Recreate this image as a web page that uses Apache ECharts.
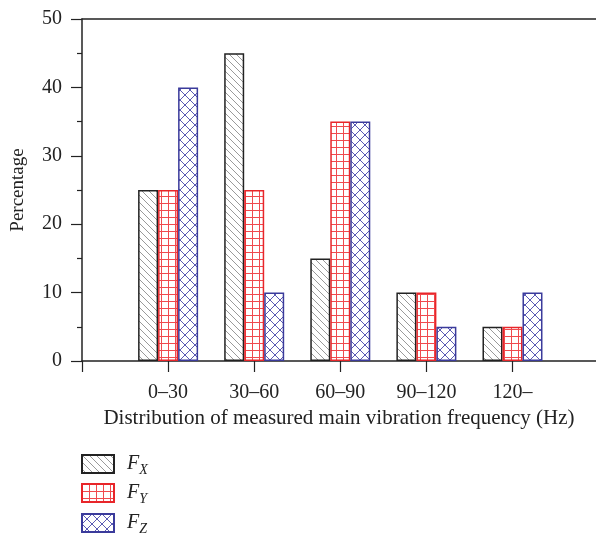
<!DOCTYPE html>
<html>
<head>
<meta charset="utf-8">
<script src="https://cdn.jsdelivr.net/npm/echarts@6/dist/echarts.min.js"></script>
<style>
  html, body { margin: 0; padding: 0; background: #fff; }
  #chart { width: 596px; height: 536px; }
</style>
</head>
<body>
<div id="chart"></div>
<script>
// Frequency bands (Hz) and share of measured main vibration frequencies (%)
const categories = ['0\u201330', '30\u201360', '60\u201390', '90\u2013120', '120\u2013'];
const fx = [25, 45, 15, 10, 5];
const fy = [25, 25, 35, 10, 5];
const fz = [40, 10, 35, 5, 10];
const yTicks = [0, 10, 20, 30, 40, 50];

const serif = '"Liberation Serif", "DejaVu Serif", serif';

// Hatch fills drawn on small tiles
function tile(size, draw) {
  const c = document.createElement('canvas');
  c.width = size; c.height = size;
  const g = c.getContext('2d');
  g.fillStyle = '#fff';
  g.fillRect(0, 0, size, size);
  draw(g, size);
  return { image: c, repeat: 'repeat' };
}
const hatchX = tile(7, (g, s) => {
  g.strokeStyle = '#9a9a9a'; g.lineWidth = 1;
  g.beginPath();
  for (let k = -1; k <= 1; k++) { g.moveTo(k * s - 1, -1); g.lineTo(k * s + s + 1, s + 1); }
  g.stroke();
});
const gridY = tile(7, (g, s) => {
  g.strokeStyle = '#f04a4e'; g.lineWidth = 1;
  g.beginPath();
  g.moveTo(0.5, 0); g.lineTo(0.5, s);
  g.moveTo(0, 0.5); g.lineTo(s, 0.5);
  g.stroke();
});
const crossZ = tile(10, (g, s) => {
  g.strokeStyle = '#5a5ab4'; g.lineWidth = 1;
  g.beginPath();
  for (let k = -1; k <= 1; k++) {
    g.moveTo(k * s, 0); g.lineTo(k * s + s, s);
    g.moveTo(k * s + s, 0); g.lineTo(k * s, s);
  }
  g.stroke();
});

// Band positions on the x scale: band i sits at i + 1
const positions = categories.map((c, i) => i + 1);
const pairs = arr => arr.map((v, i) => [positions[i], v]);

const chart = echarts.init(document.getElementById('chart'), null, { renderer: 'canvas' });

function barSeries(name, values, fill, border) {
  return {
    name: name,
    type: 'bar',
    data: pairs(values),
    barWidth: 20,
    barGap: '0%',
    itemStyle: { color: fill, borderColor: border, borderWidth: 1.5 },
    emphasis: { disabled: true }
  };
}

const seriesNames = ['F_X', 'F_Y', 'F_Z'];
const subs = { 'F_X': 'X', 'F_Y': 'Y', 'F_Z': 'Z' };
const legendTops = [454, 483, 513];

// One legend block per series, stacked down the lower left
const legends = seriesNames.map((n, i) => ({
  orient: 'vertical',
  left: 81,
  top: legendTops[i],
  padding: 0,
  itemWidth: 32,
  itemHeight: 18,
  icon: 'rect',
  selectedMode: false,
  formatter: name => '{f|F}{s|' + subs[name] + '}',
  textStyle: {
    padding: [0, 0, 0, 8],
    rich: {
      f: { fontFamily: serif, fontStyle: 'italic', fontSize: 20, color: '#222' },
      s: { fontFamily: serif, fontStyle: 'italic', fontSize: 14, color: '#222', padding: [12, 0, 0, 0] }
    }
  },
  data: [n]
}));

chart.setOption({
  animation: false,
  backgroundColor: '#fff',
  grid: { left: 82, top: 19, right: 0, bottom: 175, containLabel: false },
  legend: legends,
  xAxis: [{
    type: 'value',
    min: 0,
    max: 5.97,
    interval: 1,
    name: 'Distribution of measured main vibration frequency (Hz)',
    nameLocation: 'middle',
    nameGap: 47,
    nameTextStyle: { fontFamily: serif, fontSize: 21, color: '#222' },
    axisLine: { lineStyle: { color: '#222', width: 1.5 } },
    axisTick: {
      show: true, length: 11, inside: false,
      customValues: [0].concat(positions),
      lineStyle: { color: '#222', width: 1.2 }
    },
    axisLabel: {
      margin: 22,
      customValues: positions,
      fontFamily: serif, fontSize: 20, color: '#222',
      formatter: v => categories[Math.round(v) - 1] || ''
    },
    splitLine: { show: false }
  }, {
    type: 'value',
    position: 'top',
    min: 0,
    max: 5.97,
    axisLine: { show: true, onZero: false, lineStyle: { color: '#222', width: 1.5 } },
    axisTick: { show: false },
    axisLabel: { show: false },
    splitLine: { show: false }
  }],
  yAxis: {
    type: 'value',
    min: yTicks[0],
    max: yTicks[yTicks.length - 1],
    interval: 10,
    name: 'Percentage',
    nameLocation: 'middle',
    nameGap: 54,
    nameTextStyle: { fontFamily: serif, fontSize: 19, color: '#222' },
    axisLine: { show: true, lineStyle: { color: '#222', width: 1.5 } },
    axisTick: { show: true, length: 11, inside: false, lineStyle: { color: '#222', width: 1.2 } },
    minorTick: { show: true, splitNumber: 2, length: 5, lineStyle: { color: '#222', width: 1.2 } },
    axisLabel: { margin: 20, fontFamily: serif, fontSize: 20, color: '#222' },
    splitLine: { show: false }
  },
  series: [
    barSeries('F_X', fx, hatchX, '#222'),
    barSeries('F_Y', fy, gridY, '#e8262a'),
    barSeries('F_Z', fz, crossZ, '#3b3b9b')
  ]
});
</script>
</body>
</html>
